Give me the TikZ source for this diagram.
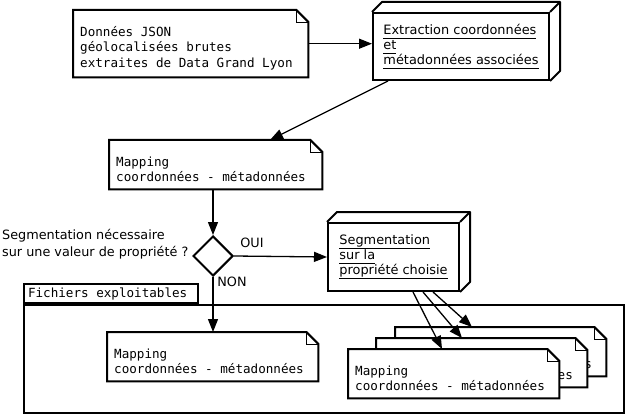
\documentclass[tikz,border=0pt]{standalone}
\usepackage{fontspec}
\setmainfont{DejaVu Sans}
\newfontfamily\monofam{DejaVu Sans Mono}
\usetikzlibrary{arrows.meta,shapes.geometric}

% note with folded corner, drawn round an existing node
\newcommand{\dogear}[1]{%
  \draw[line width=2pt] (#1.north west) -- ([xshift=-12pt]#1.north east) -- ([yshift=-12pt]#1.north east)
    -- (#1.south east) -- (#1.south west) -- cycle;
  \draw[line width=0.9pt] ([xshift=-12pt]#1.north east) |- ([yshift=-12pt]#1.north east);}
% top and right faces of a box node
\newcommand{\cubeback}[1]{%
  \draw[line width=2pt, line join=round] (#1.north west) -- ++(10pt,10pt) -- ([shift={(10pt,10pt)}]#1.north east)
    -- ([shift={(10pt,10pt)}]#1.south east) -- (#1.south east);
  \draw[line width=2pt] (#1.north east) -- ++(10pt,10pt);}
\newcommand{\ulin}[1]{{\setbox0\hbox{#1}\rlap{\rule[-4pt]{\wd0}{0.9pt}}\box0}}
\newcommand{\monotext}{\monofam\fontsize{12.6}{15.5}\selectfont}

\tikzset{
  note/.style={fill=white, anchor=north west, align=left, inner xsep=7pt, inner ysep=0pt,
    text width=197pt, minimum height=49pt, font=\monotext,
    execute at begin node={\spaceskip=\fontdimen2\font\rule{0pt}{19pt}}},
  tab/.style={draw, line width=2pt, anchor=south west, minimum width=174pt, minimum height=19pt,
    inner xsep=4pt, inner ysep=0pt, text width=166pt, align=left, font=\monotext,
    execute at begin node={\spaceskip=\fontdimen2\font}},
  cube/.style={draw, line width=2pt, fill=white, anchor=north west, align=left, inner sep=0pt,
    font=\fontsize{12.9}{15}\selectfont},
  flow/.style={line width=1.3pt, -{Triangle[length=13pt,width=10pt]}},
  sans/.style={font=\fontsize{12.8}{17}\selectfont, inner sep=0pt},
}

\begin{document}
\begin{tikzpicture}[x=1pt,y=-1pt]
  \useasboundingbox[fill=white] (0,0) rectangle (626,414);

  \node[note, text width=221pt, minimum height=67pt] (src) at (73,10)
    {Données JSON\\géolocalisées brutes\\extraites de Data Grand Lyon};
  \dogear{src}

  \node[cube, minimum width=176pt, minimum height=67pt] (extract) at (372,12)
    {\ulin{Extraction coordonnées}\\\ulin{et}\\\ulin{métadonnées associées}};
  \cubeback{extract}

  \node[note, text width=199pt] (map1) at (109,140) {Mapping\\coordonnées - métadonnées};
  \dogear{map1}

  \node[draw, diamond, line width=2pt, minimum size=40pt, inner sep=0pt] (decide) at (213,256) {};
  \node[sans, anchor=west, align=left] (question) at (2,244)
    {Segmentation nécessaire\\sur une valeur de propriété ?};
  \node[sans] (oui) at (252,243) {OUI};
  \node[sans] (non) at (232,282) {NON};

  \node[cube, minimum width=131pt, minimum height=68pt] (segment) at (327,222)
    {\ulin{Segmentation}\\\ulin{sur la}\\\ulin{propriété choisie}};
  \cubeback{segment}

  % conteneur des fichiers
  \node[draw, line width=2pt, anchor=north west, minimum width=600pt, minimum height=108pt] (files) at (23,304) {};
  \node[tab] (filestab) at (23,304) {Fichiers exploitables};

  \node[note] (mapdirect) at (107,332) {Mapping\\coordonnées - métadonnées};
  \dogear{mapdirect}

  \node[note] (mapseg3) at (395,327) {Mapping\\coordonnées - métadonnées};
  \dogear{mapseg3}
  \node[note] (mapseg2) at (376,338) {Mapping\\coordonnées - métadonnées};
  \dogear{mapseg2}
  \node[note] (mapseg1) at (348,349) {Mapping\\coordonnées - métadonnées};
  \dogear{mapseg1}

  \draw[flow] (src.east) -- (src.east -| extract.west);
  \draw[flow] ([xshift=16pt]extract.south west) -- ([xshift=161pt]map1.north west);
  \draw[flow] (map1.south -| decide.north) -- (decide.north);
  \draw[flow] (decide.east) -- (segment.west);
  \draw[flow] (decide.south) -- (decide.south |- mapdirect.north);
  \draw[flow] ([xshift=86pt]segment.south west) -- ([xshift=94pt]mapseg1.north west);
  \draw[flow] ([xshift=96pt]segment.south west) -- ([xshift=86pt]mapseg2.north west);
  \draw[flow] ([xshift=106pt]segment.south west) -- ([xshift=77pt]mapseg3.north west);
\end{tikzpicture}
\end{document}
